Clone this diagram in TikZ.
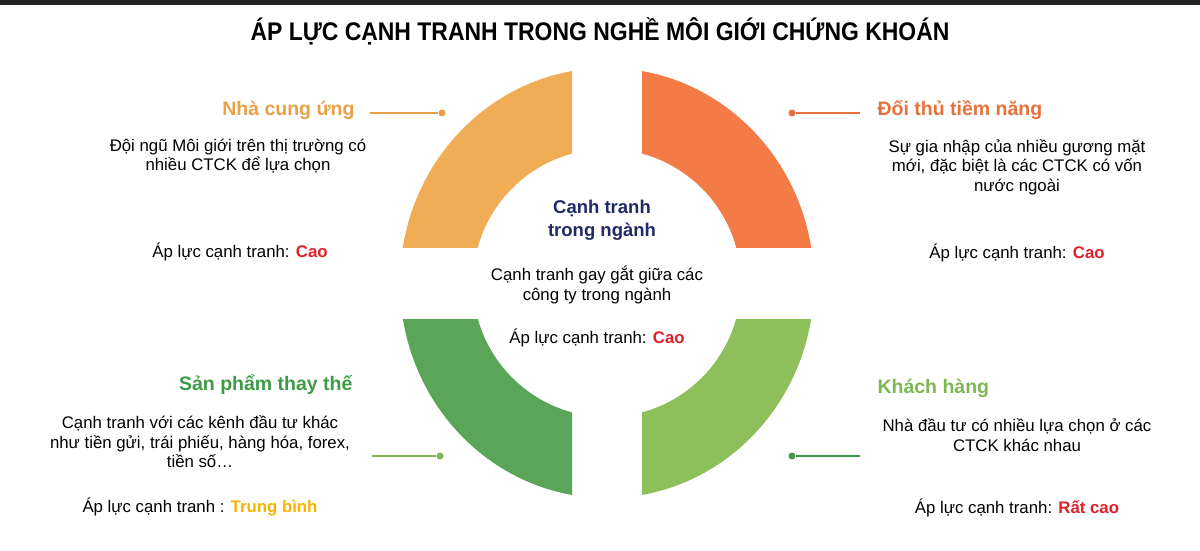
\documentclass[tikz,border=0pt]{standalone}
\usepackage{fontspec}
\setmainfont{Liberation Sans}
\newfontfamily\titlefont[FakeStretch=0.9]{Liberation Sans}
\usetikzlibrary{calc,positioning}
\definecolor{ncucol}{HTML}{F0AD56}
\definecolor{ncuhead}{HTML}{E9A047}
\definecolor{dttcol}{HTML}{F27B46}
\definecolor{dtthead}{HTML}{E8703A}
\definecolor{sptcol}{HTML}{5BA558}
\definecolor{spthead}{HTML}{3F9A47}
\definecolor{khcol}{HTML}{8DC05B}
\definecolor{khhead}{HTML}{7DB653}
\definecolor{ctnavy}{HTML}{1F2A66}
\definecolor{apred}{HTML}{E0202A}
\definecolor{apyellow}{HTML}{F5B400}
\definecolor{bartop}{HTML}{222222}

\tikzset{
  head/.style={font=\fontsize{19.5}{23}\selectfont\bfseries},
  desc/.style={font=\fontsize{16.8}{19.5}\selectfont, align=center, text=black},
  leaddot/.style={circle, inner sep=0pt, minimum size=7pt},
}

\begin{document}
\begin{tikzpicture}[x=1pt,y=1pt]
\useasboundingbox (0,0) rectangle (1200,550);
\fill[bartop] (0,545) rectangle (1200,550);
\node[font=\fontsize{25.5}{28}\selectfont\titlefont\bfseries] (title) at (600,519) {ÁP LỰC CẠNH TRANH TRONG NGHỀ MÔI GIỚI CHỨNG KHOÁN};

\coordinate (C) at (607,267);
\begin{scope}
  \clip ($(C)+(-35,36)$) rectangle ($(C)+(-240,240)$);
  \fill[ncucol, even odd rule] (C) ellipse[x radius=207pt, y radius=215pt] (C) circle[radius=134pt];
\end{scope}
\begin{scope}
  \clip ($(C)+(35,36)$) rectangle ($(C)+(240,240)$);
  \fill[dttcol, even odd rule] (C) ellipse[x radius=207pt, y radius=215pt] (C) circle[radius=134pt];
\end{scope}
\begin{scope}
  \clip ($(C)+(-35,-36)$) rectangle ($(C)+(-240,-240)$);
  \fill[sptcol, even odd rule] (C) ellipse[x radius=207pt, y radius=215pt] (C) circle[radius=134pt];
\end{scope}
\begin{scope}
  \clip ($(C)+(35,-36)$) rectangle ($(C)+(240,-240)$);
  \fill[khcol, even odd rule] (C) ellipse[x radius=207pt, y radius=215pt] (C) circle[radius=134pt];
\end{scope}

\node[font=\fontsize{18.5}{23}\selectfont\bfseries, text=ctnavy, align=center] (ctHead) at (602,330) {Cạnh tranh\\trong ngành};
\node[desc] (ctText) at (597,265) {Cạnh tranh gay gắt giữa các\\công ty trong ngành};
\node[desc] (ctAL) at (597,212) {Áp lực cạnh tranh: \textbf{\color{apred}Cao}};

\node[head, text=ncuhead, anchor=east] (ncuHead) at (358,440) {Nhà cung ứng};
\node[desc] (ncuText) at (238,394) {Đội ngũ Môi giới trên thị trường có\\nhiều CTCK để lựa chọn};
\node[desc] (ncuAL) at (240,298) {Áp lực cạnh tranh: \textbf{\color{apred}Cao}};

\node[head, text=dtthead, anchor=west] (dttHead) at (874,440) {Đối thủ tiềm năng};
\node[desc] (dttText) at (1017,383) {Sự gia nhập của nhiều gương mặt\\mới, đặc biệt là các CTCK có vốn\\nước ngoài};
\node[desc] (dttAL) at (1017,297) {Áp lực cạnh tranh: \textbf{\color{apred}Cao}};

\node[head, text=spthead, anchor=east] (sptHead) at (356,165) {Sản phẩm thay thế};
\node[desc] (sptText) at (200,108) {Cạnh tranh với các kênh đầu tư khác\\như tiền gửi, trái phiếu, hàng hóa, forex,\\tiền số…};
\node[desc] (sptAL) at (200,43) {Áp lực cạnh tranh : \textbf{\color{apyellow}Trung bình}};

\node[head, text=khhead, anchor=west] (khHead) at (874,162) {Khách hàng};
\node[desc] (khText) at (1017,115) {Nhà đầu tư có nhiều lựa chọn ở các\\CTCK khác nhau};
\node[desc] (khAL) at (1017,42) {Áp lực cạnh tranh: \textbf{\color{apred}Rất cao}};

\coordinate (ncuEnd) at (370,437);
\node[leaddot, fill=ncuhead] (ncuDot) at (442,437) {};
\coordinate (dttEnd) at (860,437);
\node[leaddot, fill=dtthead] (dttDot) at (792,437) {};
\coordinate (sptEnd) at (372,94);
\node[leaddot, fill=khhead] (sptDot) at (440,94) {};
\coordinate (khEnd) at (860,94);
\node[leaddot, fill=spthead] (khDot) at (792,94) {};
\draw[line width=2pt]
  (ncuEnd) edge[ncuhead] (ncuDot)
  (dttEnd) edge[dtthead] (dttDot)
  (sptEnd) edge[khhead] (sptDot)
  (khEnd) edge[spthead] (khDot)
  ;
\end{tikzpicture}
\end{document}
